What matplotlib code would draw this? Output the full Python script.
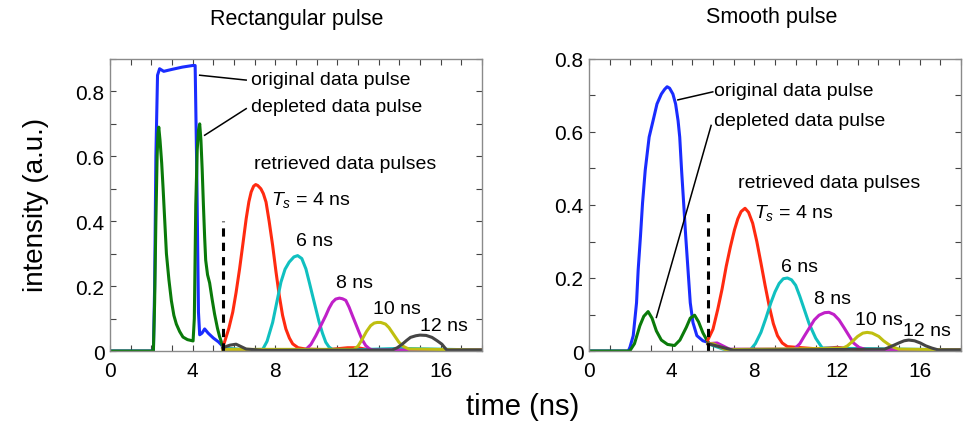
import numpy as np
import matplotlib
matplotlib.use("Agg")
import matplotlib.pyplot as plt
from matplotlib.ticker import MultipleLocator

plt.rcParams['font.family'] = ['Liberation Sans', 'DejaVu Sans']
plt.rcParams['mathtext.fontset'] = 'custom'
plt.rcParams['mathtext.rm'] = 'Liberation Sans'
plt.rcParams['mathtext.it'] = 'Liberation Sans:italic'

# colours (matlab-like)
C_BLUE = '#1a2cff'
C_GREEN = '#0a7a0a'
C_RED = '#ff2a10'
C_CYAN = '#10c0c0'
C_MAG = '#c020c8'
C_YEL = '#bfbf10'
C_GREY = '#454545'

# ---- rectangular pulse (left panel), time in ns, intensity in a.u.
rect_blue_t = [0, 2.1, 2.16, 2.22, 2.3, 2.4, 2.6, 3.0, 3.5, 4.0, 4.12, 4.2, 4.28, 4.34,
               4.45, 4.58, 4.75, 5.0, 5.25, 5.45]
rect_blue_v = [0, 0, 0.2, 0.6, 0.85, 0.87, 0.862, 0.868, 0.875, 0.88, 0.88, 0.55, 0.12,
               0.05, 0.055, 0.068, 0.055, 0.04, 0.028, 0.015]
rect_green_t = [0, 2.1, 2.16, 2.22, 2.28, 2.32, 2.36, 2.42, 2.5, 2.57, 2.65, 2.73, 2.85,
                2.97, 3.09, 3.21, 3.37, 3.53, 3.75, 4.02, 4.08, 4.15, 4.22, 4.28, 4.34,
                4.4, 4.46, 4.52, 4.58, 4.63, 4.72, 4.82, 4.94, 5.06, 5.2, 5.3, 5.38, 5.45]
rect_green_v = [0, 0, 0.15, 0.4, 0.6, 0.67, 0.69, 0.65, 0.58, 0.5, 0.4, 0.3, 0.22,
                0.155, 0.11, 0.083, 0.06, 0.043, 0.035, 0.031, 0.1, 0.45, 0.62, 0.68, 0.70,
                0.65, 0.56, 0.45, 0.35, 0.28, 0.235, 0.21, 0.16, 0.114, 0.07, 0.045, 0.03,
                0.012]
rect_red_t = [5.45, 5.54, 5.75, 5.94, 6.1, 6.27, 6.43, 6.59, 6.72, 6.83, 6.95, 7.05, 7.15,
              7.3, 7.42, 7.55, 7.7, 7.87, 8.03, 8.19, 8.35, 8.51, 8.68, 8.84, 9.1, 9.48,
              10.5, 11.5, 12.0, 12.5, 13.5, 18]
rect_red_v = [0.01, 0.027, 0.07, 0.12, 0.18, 0.253, 0.33, 0.408, 0.46, 0.49, 0.508, 0.513,
              0.51, 0.5, 0.485, 0.459, 0.4, 0.325, 0.245, 0.171, 0.11, 0.068, 0.04, 0.022,
              0.01, 0.006, 0.004, 0.01, 0.01, 0.004, 0.003, 0.003]
rect_cyan_t = [5.45, 6.5, 7.39, 7.6, 7.87, 8.07, 8.27, 8.47, 8.67, 8.9, 9.08, 9.28, 9.48,
               9.65, 9.8, 9.96, 10.12, 10.28, 10.44, 10.6, 10.76, 12.0, 14.0, 18]
rect_cyan_v = [0.01, 0.004, 0.005, 0.03, 0.088, 0.15, 0.212, 0.252, 0.274, 0.29, 0.294,
               0.285, 0.253, 0.21, 0.171, 0.13, 0.089, 0.055, 0.027, 0.012, 0.005, 0.004,
               0.008, 0.003]
rect_mag_t = [5.45, 9.0, 9.48, 9.72, 9.96, 10.2, 10.44, 10.6, 10.76, 10.92, 11.1, 11.25,
              11.41, 11.57, 11.73, 11.9, 12.05, 12.2, 12.37, 12.55, 12.7, 14, 18]
rect_mag_v = [0.005, 0.003, 0.005, 0.02, 0.047, 0.078, 0.109, 0.132, 0.15, 0.16, 0.163,
              0.161, 0.156, 0.135, 0.109, 0.082, 0.058, 0.035, 0.017, 0.007, 0.003, 0.003,
              0.003]
rect_yel_t = [5.45, 11.8, 12.0, 12.21, 12.41, 12.61, 12.78, 12.93, 13.1, 13.33, 13.5, 13.65,
              13.82, 13.98, 14.2, 14.46, 18]
rect_yel_v = [0.005, 0.005, 0.015, 0.037, 0.06, 0.078, 0.086, 0.088, 0.088, 0.083, 0.072,
              0.058, 0.042, 0.027, 0.014, 0.006, 0.003]
rect_grey_t = [5.45, 5.8, 6.1, 6.59, 7.4, 13.65, 13.9, 14.14, 14.34, 14.54, 14.8, 15.0,
               15.3, 15.58, 15.82, 16.06, 16.2, 16.3, 18]
rect_grey_v = [0.01, 0.018, 0.021, 0.006, 0.002, 0.003, 0.01, 0.021, 0.032, 0.042, 0.047,
               0.049, 0.048, 0.042, 0.032, 0.021, 0.01, 0.003, 0.003]

# ---- smooth pulse (right panel)
smooth_blue_t = [0, 1.9, 1.98, 2.14, 2.3, 2.38, 2.49, 2.59, 2.72, 2.91, 3.1, 3.29, 3.5,
                 3.66, 3.78, 3.9, 4.06, 4.19, 4.31, 4.39, 4.48, 4.58, 4.68, 4.79, 4.9, 5.03,
                 5.22, 5.51, 5.75]
smooth_blue_v = [0, 0, 0.01, 0.042, 0.132, 0.223, 0.314, 0.405, 0.495, 0.586, 0.631, 0.677,
                 0.704, 0.717, 0.724, 0.72, 0.704, 0.677, 0.631, 0.586, 0.495, 0.405,
                 0.314, 0.223, 0.132, 0.078, 0.042, 0.028, 0.024]
smooth_green_t = [0, 1.97, 2.2, 2.46, 2.65, 2.86, 3.05, 3.26, 3.5, 3.8, 4.14, 4.4, 4.71,
                  4.9, 5.11, 5.3, 5.51, 5.75]
smooth_green_v = [0, 0, 0.02, 0.069, 0.095, 0.108, 0.09, 0.055, 0.03, 0.018, 0.015, 0.03,
                  0.065, 0.09, 0.098, 0.08, 0.05, 0.025]
smooth_red_t = [5.75, 6.0, 6.23, 6.44, 6.64, 6.84, 7.04, 7.2, 7.36, 7.55, 7.72, 7.92, 8.12,
                8.32, 8.52, 8.72, 8.92, 9.12, 9.35, 9.6, 11.0, 12.0, 13.0, 18]
smooth_red_v = [0.03, 0.06, 0.114, 0.17, 0.232, 0.285, 0.332, 0.362, 0.382, 0.391, 0.38,
                0.35, 0.3, 0.241, 0.18, 0.123, 0.075, 0.042, 0.022, 0.012, 0.006, 0.01,
                0.004, 0.003]
smooth_cyan_t = [5.75, 6.5, 7.76, 8.05, 8.32, 8.56, 8.8, 9.0, 9.2, 9.4, 9.6, 9.8, 10.0,
                 10.2, 10.41, 10.65, 10.97, 11.29, 18]
smooth_cyan_v = [0.02, 0.005, 0.0, 0.02, 0.051, 0.09, 0.132, 0.162, 0.185, 0.198, 0.2,
                 0.195, 0.18, 0.15, 0.115, 0.075, 0.035, 0.008, 0.003]
smooth_mag_t = [5.75, 6.2, 6.8, 9.93, 10.2, 10.41, 10.65, 10.9, 11.13, 11.4, 11.61, 11.85,
                12.1, 12.35, 12.58, 12.8, 13.06, 13.4, 18]
smooth_mag_v = [0.02, 0.022, 0.005, 0.005, 0.02, 0.04, 0.062, 0.085, 0.098, 0.105, 0.106,
                0.1, 0.085, 0.063, 0.042, 0.022, 0.01, 0.004, 0.003]
smooth_yel_t = [5.75, 6.0, 6.6, 12.26, 12.5, 12.74, 13.0, 13.25, 13.46, 13.7, 14.02, 14.25,
                14.5, 14.75, 14.99, 18]
smooth_yel_v = [0.02, 0.02, 0.004, 0.007, 0.014, 0.026, 0.04, 0.049, 0.051, 0.049, 0.04,
                0.028, 0.018, 0.01, 0.005, 0.003]
smooth_grey_t = [5.75, 6.1, 7.0, 14.3, 14.6, 14.99, 15.25, 15.47, 15.75, 16.03, 16.3, 16.59,
                 16.9, 18]
smooth_grey_v = [0.02, 0.015, 0.002, 0.005, 0.012, 0.022, 0.028, 0.03, 0.028, 0.022, 0.014,
                 0.008, 0.003, 0.003]

# dashed markers (time, height)
rect_dash = (5.45, 0.40)
smooth_dash = (5.75, 0.39)

pulse_labels = ['$T_s$ = 4 ns', '6 ns', '8 ns', '10 ns', '12 ns']
rect_label_xy = [(7.79, 0.467), (9.0, 0.341), (10.93, 0.21), (12.72, 0.132), (15.02, 0.078)]
smooth_label_xy = [(8.0, 0.382), (9.29, 0.232), (10.89, 0.143), (12.87, 0.087), (15.18, 0.055)]

fig = plt.figure(figsize=(9.67, 4.27), dpi=100)
W, H = 967, 427
axL = fig.add_axes([110 / W, 1 - 352 / H, 372 / W, 292 / H])
axR = fig.add_axes([589 / W, 1 - 352 / H, 372 / W, 292 / H])

lw = 2.2


def draw(ax, curves, dash):
    for t, v, c in curves:
        ax.plot(t, v, color=c, lw=lw, solid_joinstyle='round')
    ax.plot([dash[0], dash[0]], [0, dash[1]], color='k', lw=2.2, dashes=(2.7, 2.0))


draw(axL, [(rect_blue_t, rect_blue_v, C_BLUE), (rect_green_t, rect_green_v, C_GREEN),
           (rect_red_t, rect_red_v, C_RED), (rect_cyan_t, rect_cyan_v, C_CYAN),
           (rect_mag_t, rect_mag_v, C_MAG), (rect_yel_t, rect_yel_v, C_YEL),
           (rect_grey_t, rect_grey_v, C_GREY)], rect_dash)
draw(axR, [(smooth_blue_t, smooth_blue_v, C_BLUE), (smooth_green_t, smooth_green_v, C_GREEN),
           (smooth_red_t, smooth_red_v, C_RED), (smooth_cyan_t, smooth_cyan_v, C_CYAN),
           (smooth_mag_t, smooth_mag_v, C_MAG), (smooth_yel_t, smooth_yel_v, C_YEL),
           (smooth_grey_t, smooth_grey_v, C_GREY)], smooth_dash)

axL.set_ylim(0, 0.9)
axR.set_ylim(0, 0.8)
for ax in (axL, axR):
    ax.set_xlim(0, 18)
    ax.xaxis.set_major_locator(MultipleLocator(4))
    ax.xaxis.set_minor_locator(MultipleLocator(1))
    ax.yaxis.set_major_locator(MultipleLocator(0.2))
    ax.yaxis.set_minor_locator(MultipleLocator(0.1))
    ax.yaxis.set_major_formatter(plt.FuncFormatter(lambda v, p: '0' if v == 0 else f'{v:.1f}'))
    ax.tick_params(which='both', direction='in', top=True, right=True, length=4,
                   width=0.8, color='#444444', labelsize=15)
    ax.tick_params(axis='x', pad=7)
    ax.tick_params(axis='y', pad=4)
    for s in ax.spines.values():
        s.set_color('#8a8a8a')
        s.set_linewidth(1.0)

fs = 14
# left annotations
axL.text(6.83, 0.838, 'original data pulse', fontsize=fs, va='center')
axL.text(6.80, 0.753, 'depleted data pulse', fontsize=fs, va='center')
axL.plot([4.34, 6.59], [0.850, 0.835], color='k', lw=1.1)
axL.plot([4.58, 6.59], [0.665, 0.747], color='k', lw=1.1)
axL.text(6.99, 0.578, 'retrieved data pulses', fontsize=fs, va='center')
for lab, (x, y) in zip(pulse_labels, rect_label_xy):
    axL.text(x, y, lab, fontsize=fs, va='center')

# right annotations
axR.text(6.07, 0.713, 'original data pulse', fontsize=fs, va='center')
axR.text(6.07, 0.631, 'depleted data pulse', fontsize=fs, va='center')
axR.plot([4.30, 5.99], [0.688, 0.710], color='k', lw=1.1)
axR.plot([3.26, 5.91], [0.092, 0.618], color='k', lw=1.1)
axR.text(7.2, 0.463, 'retrieved data pulses', fontsize=fs, va='center')
for lab, (x, y) in zip(pulse_labels, smooth_label_xy):
    axR.text(x, y, lab, fontsize=fs, va='center')

fig.text(297 / W, 1 - 20 / H, 'Rectangular pulse', fontsize=15.5, ha='center', va='center')
fig.text(772 / W, 1 - 18 / H, 'Smooth pulse', fontsize=15.5, ha='center', va='center')
fig.text(36 / W, 1 - 205 / H, 'intensity (a.u.)', fontsize=20, rotation=90,
         ha='center', va='center')
fig.text(523 / W, 1 - 407 / H, 'time (ns)', fontsize=21, ha='center', va='center')

fig.savefig('out.png', dpi=100)
